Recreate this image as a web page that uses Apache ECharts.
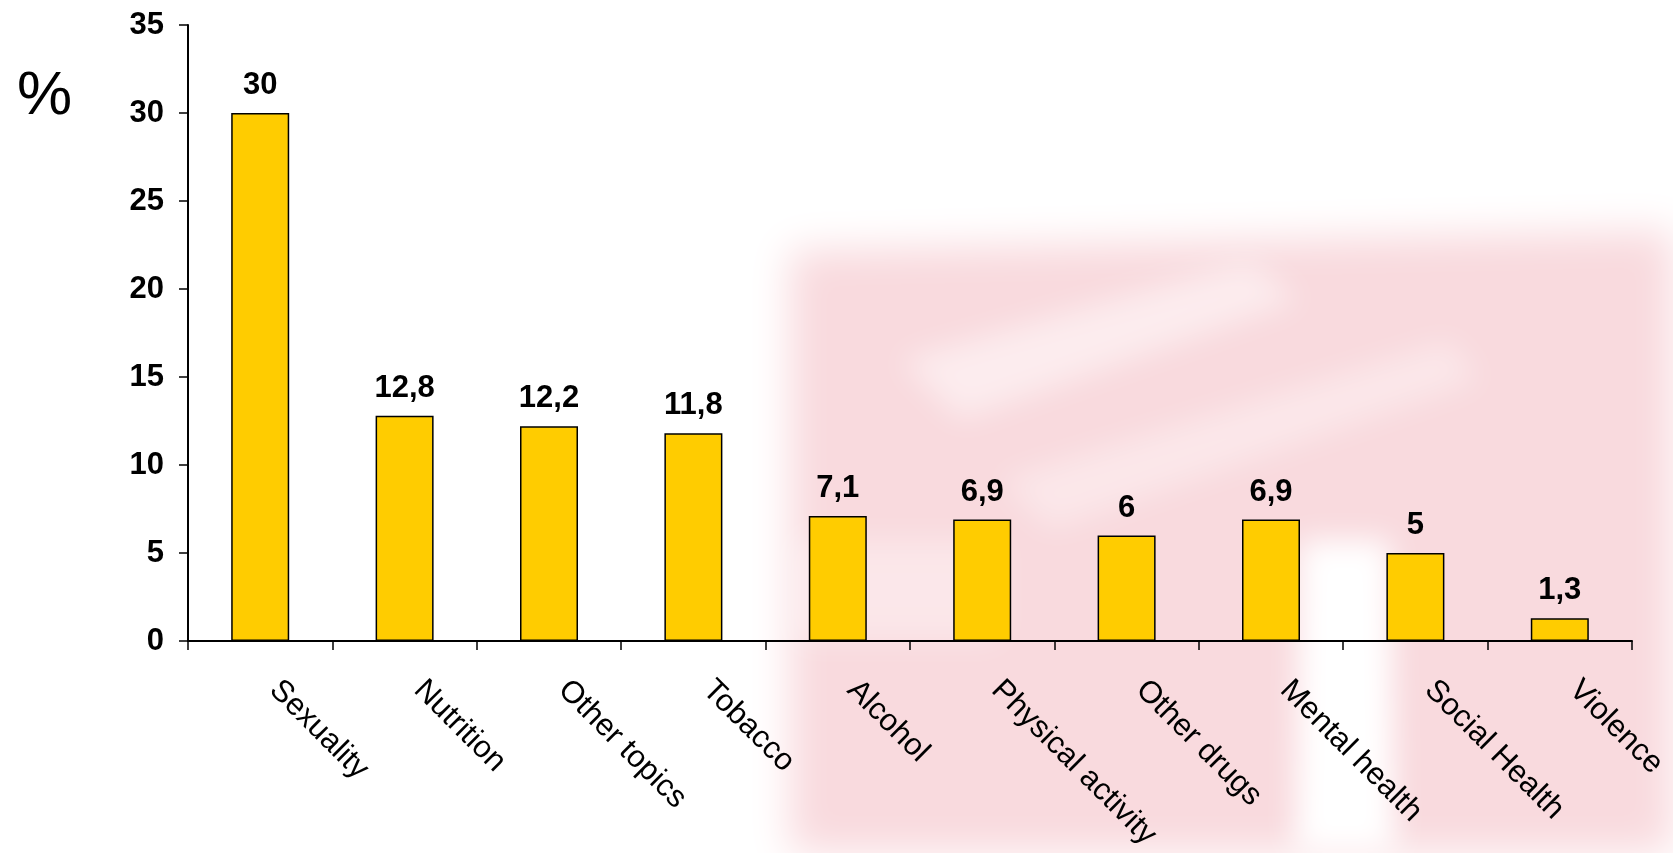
<!DOCTYPE html>
<html>
<head>
<meta charset="utf-8">
<title>Topics</title>
<script src="https://cdn.jsdelivr.net/npm/echarts@6/dist/echarts.min.js"></script>
<style>
  html, body { margin: 0; padding: 0; background: #fff; }
  #chart { width: 1673px; height: 853px; }
</style>
</head>
<body>
<div id="chart"></div>
<script>
const chart = echarts.init(document.getElementById("chart"));

const categories = ["Sexuality", "Nutrition", "Other topics", "Tobacco", "Alcohol",
	"Physical activity", "Other drugs", "Mental health", "Social Health", "Violence"];
const values = [30, 12.8, 12.2, 11.8, 7.1, 6.9, 6, 6.9, 5, 1.3];
const yTicks = [0, 5, 10, 15, 20, 25, 30, 35];

const FONT = "Liberation Sans, Arial, sans-serif";
const PINK = "#f9dade";

// blurred background blob: shape is drawn off-screen, only its shadow shows
function blob(points, color, blur) {
	const OFF = 4000;
	return {
		type: "polygon",
		silent: true,
		z: -10,
		shape: { points: points.map(p => [p[0] - OFF, p[1]]) },
		style: {
			fill: color,
			shadowColor: color,
			shadowBlur: blur,
			shadowOffsetX: OFF
		}
	};
}

option = {
	backgroundColor: "#fff",
	textStyle: { fontFamily: FONT },
	graphic: [
		blob([[790, 250], [1673, 230], [1673, 853], [790, 853]], PINK, 40),
		blob([[1300, 540], [1390, 540], [1395, 853], [1295, 853]], "#ffffff", 30),
		blob([[900, 360], [1250, 260], [1300, 300], [960, 420]], "rgba(255,255,255,0.7)", 30),
		blob([[1000, 480], [1450, 340], [1480, 380], [1050, 530]], "rgba(255,255,255,0.6)", 30),
		blob([[790, 540], [1000, 540], [1000, 640], [790, 640]], "rgba(255,255,255,0.6)", 30),
		blob([[20, 160], [120, 140], [130, 360], [30, 380]], "rgba(0,0,0,0.03)", 40),
		blob([[20, 460], [130, 440], [130, 800], [20, 820]], "rgba(0,0,0,0.03)", 40),
		{
			type: "text",
			left: 17,
			top: 66,
			z: 10,
			style: { text: "%", font: "normal 62px " + FONT, fill: "#000" }
		}
	],
	grid: {
		left: 188,
		right: 41,
		top: 25,
		bottom: 210
	},
	xAxis: {
		type: "category",
		data: categories,
		axisLine: { lineStyle: { color: "#000", width: 2 } },
		axisTick: { show: true, length: 9, lineStyle: { color: "#000", width: 1.5 } },
		axisLabel: {
			rotate: -45,
			margin: 30,
			padding: [0, 0, 0, 20],
			fontSize: 31,
			color: "#000",
			fontFamily: FONT,
			interval: 0
		}
	},
	yAxis: {
		type: "value",
		min: yTicks[0],
		max: yTicks[yTicks.length - 1],
		interval: 5,
		axisLine: { show: true, lineStyle: { color: "#000", width: 2 } },
		axisTick: { show: true, length: 9, lineStyle: { color: "#000", width: 1.5 } },
		splitLine: { show: false },
		axisLabel: {
			margin: 24,
			fontSize: 31,
			fontWeight: "bold",
			color: "#000",
			fontFamily: FONT
		}
	},
	series: [{
		type: "bar",
		data: values,
		barWidth: 58,
		itemStyle: { color: "#ffcc00", borderColor: "#000", borderWidth: 1.5 },
		label: {
			show: true,
			position: "top",
			distance: 12,
			fontSize: 31,
			fontWeight: "bold",
			color: "#000",
			fontFamily: FONT,
			formatter: p => String(p.value).replace(".", ",")
		}
	}]
};

chart.setOption(option);
window.onresize = chart.resize;
</script>
</body>
</html>
